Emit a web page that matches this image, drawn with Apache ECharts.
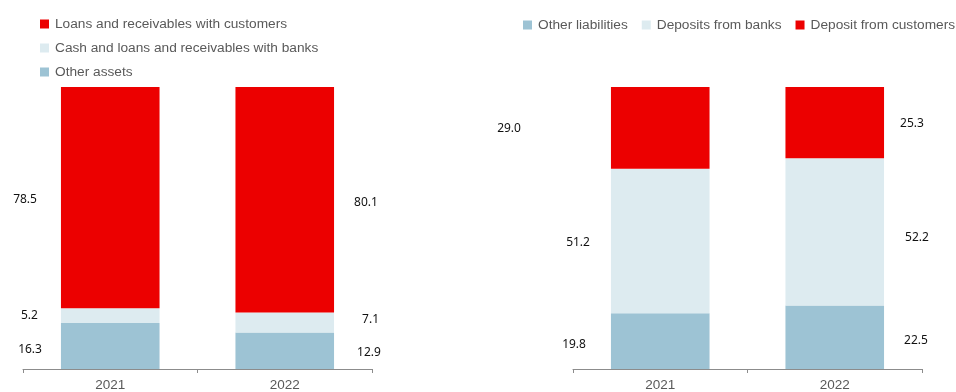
<!DOCTYPE html>
<html>
<head>
<meta charset="utf-8">
<script src="https://cdn.jsdelivr.net/npm/echarts@6/dist/echarts.min.js"></script>
<style>
  html, body { margin: 0; padding: 0; background: #fff; }
  #chart { width: 956px; height: 392px; }
</style>
</head>
<body>
<div id="chart"></div>
<script>
// Balance sheet structure, % of total
const years = ['2021', '2022'];

const assetNames = ['Loans and receivables with customers', 'Cash and loans and receivables with banks', 'Other assets'];
const loansCustomers = [78.5, 80.1];
const cashBanks = [5.2, 7.1];
const otherAssets = [16.3, 12.9];

const liabilityNames = ['Other liabilities', 'Deposits from banks', 'Deposit from customers'];
const otherLiabilities = [19.8, 22.5];
const depositsBanks = [51.2, 52.2];
const depositsCustomers = [29.0, 25.3];

const RED = '#EC0000';
const LIGHT = '#DDEBF0';
const BLUE = '#9DC3D4';
const GREY_TEXT = '#595959';

// label placement per year: first year sits left of its bar, second year right
// [distance from bar edge, vertical nudge]
const labelPlacement = {
  loans:   [[24, 2], [20, 3]],
  cash:    [[23, 0], [28, -3]],
  other:   [[19, 4], [23, 2]],
  othLiab: [[25, 3], [20, 3]],
  depBank: [[21, 2], [21, 6]],
  depCust: [[90, 1], [16, 1]]
};

function items(values, key) {
  return values.map((v, i) => {
    const [dist, dy] = labelPlacement[key][i];
    return {
      value: v,
      label: {
        position: i === 0 ? 'left' : 'right',
        distance: dist,
        offset: [0, dy]
      }
    };
  });
}

const valueLabel = {
  show: true,
  color: '#111',
  fontFamily: 'Noto Sans',
  fontSize: 12,
  formatter: p => p.value.toFixed(1)
};

function barSeries(name, values, key, color, axis, stack) {
  return {
    name: name,
    type: 'bar',
    stack: stack,
    xAxisIndex: axis,
    yAxisIndex: axis,
    barWidth: '56.5%',
    itemStyle: { color: color },
    label: valueLabel,
    emphasis: { disabled: true },
    data: items(values, key)
  };
}

const xAxisBase = {
  type: 'category',
  data: years,
  axisLine: { lineStyle: { color: '#8C8C8C', width: 1 } },
  axisTick: { show: true, length: 4, lineStyle: { color: '#8C8C8C' } },
  axisLabel: { color: GREY_TEXT, fontFamily: 'Liberation Sans', fontSize: 13.5, margin: 9 }
};

const yAxisBase = {
  type: 'value',
  min: 0,
  max: 100,
  show: false,
  splitLine: { show: false }
};

const legendText = { color: GREY_TEXT, fontFamily: 'Liberation Sans', fontSize: 13.7, lineHeight: 14, padding: [0, 0, 0, 1] };

const chart = echarts.init(document.getElementById('chart'), null, { renderer: 'canvas' });

chart.setOption({
  animation: false,
  backgroundColor: '#fff',
  legend: [
    {
      orient: 'vertical',
      left: 40,
      top: 17,
      padding: 0,
      itemWidth: 9,
      itemHeight: 9,
      itemGap: 10,
      icon: 'rect',
      selectedMode: false,
      textStyle: legendText,
      data: assetNames
    },
    {
      orient: 'horizontal',
      left: 523,
      top: 18,
      padding: 0,
      itemWidth: 9,
      itemHeight: 9,
      itemGap: 14,
      icon: 'rect',
      selectedMode: false,
      textStyle: legendText,
      data: liabilityNames
    }
  ],
  grid: [
    { left: 23, width: 349, top: 87, bottom: 23, containLabel: false },
    { left: 573, width: 349, top: 87, bottom: 23, containLabel: false }
  ],
  xAxis: [
    Object.assign({ gridIndex: 0 }, xAxisBase),
    Object.assign({ gridIndex: 1 }, xAxisBase)
  ],
  yAxis: [
    Object.assign({ gridIndex: 0 }, yAxisBase),
    Object.assign({ gridIndex: 1 }, yAxisBase)
  ],
  series: [
    barSeries(assetNames[2], otherAssets, 'other', BLUE, 0, 'assets'),
    barSeries(assetNames[1], cashBanks, 'cash', LIGHT, 0, 'assets'),
    barSeries(assetNames[0], loansCustomers, 'loans', RED, 0, 'assets'),
    barSeries(liabilityNames[0], otherLiabilities, 'othLiab', BLUE, 1, 'liabilities'),
    barSeries(liabilityNames[1], depositsBanks, 'depBank', LIGHT, 1, 'liabilities'),
    barSeries(liabilityNames[2], depositsCustomers, 'depCust', RED, 1, 'liabilities')
  ]
});
</script>
</body>
</html>
